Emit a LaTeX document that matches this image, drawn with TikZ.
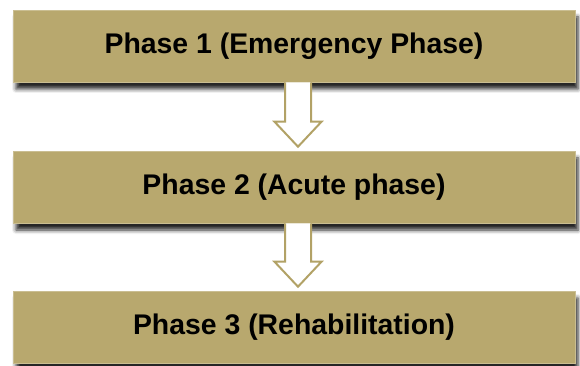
\documentclass[tikz,border=0pt]{standalone}
\usepackage{fontspec}
\setmainfont{Liberation Sans}
\usetikzlibrary{calc,shadows.blur}
\definecolor{khaki}{RGB}{184,168,110}
\definecolor{khakiline}{RGB}{178,162,102}

\begin{document}
\begin{tikzpicture}[x=1pt,y=1pt, line join=miter,
  phasebox/.style={fill=khaki, draw=khaki!75!white, line width=0.6pt,
    minimum width=562pt, minimum height=72pt, inner sep=0pt,
    font=\fontsize{28.4}{31}\selectfont\bfseries,
    blur shadow={shadow xshift=3pt, shadow yshift=-7pt, shadow opacity=85, shadow blur radius=4pt}},
  hollow/.style={draw=khakiline, fill=white, line width=2pt}]
  \useasboundingbox (0,0) rectangle (580,365);
  \node[phasebox] (p1) at (294,319) {Phase 1 (Emergency Phase)};
  \node[phasebox] (p2) at (294,178) {Phase 2 (Acute phase)};
  \node[phasebox] (p3) at (294,38) {Phase 3 (Rehabilitation)};
  % hollow block arrows between the phases
  \foreach \a/\b in {p1/p2,p2/p3} {
    \draw[hollow] ([xshift=-9pt]\a.south) -- ([xshift=-9pt,yshift=29pt]\b.north) -- ++(-10.5,0)
      -- ([xshift=4pt,yshift=4pt]\b.north) -- ([xshift=27.5pt,yshift=29pt]\b.north) -- ++(-10.5,0)
      -- ([xshift=17pt]\a.south);
  }
\end{tikzpicture}
\end{document}
